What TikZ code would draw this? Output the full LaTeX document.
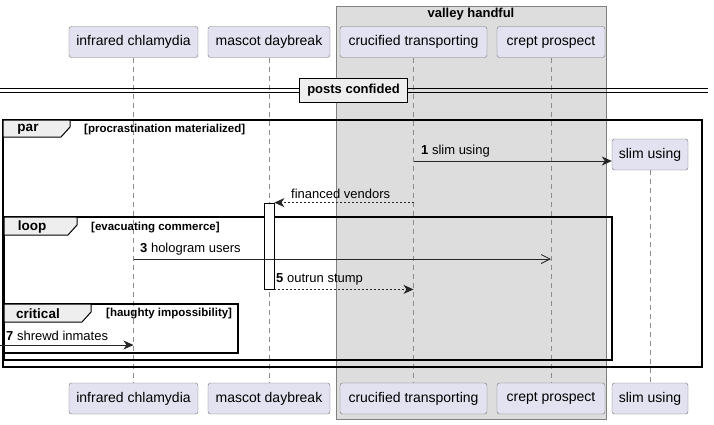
\documentclass[tikz,border=0pt]{standalone}
\usepackage{fontspec}
\setmainfont{Liberation Sans}
\usetikzlibrary{arrows.meta}
\definecolor{partfill}{HTML}{E2E2F0}
\definecolor{boxfill}{HTML}{DDDDDD}
\definecolor{tabfill}{HTML}{EEEEEE}
\begin{document}
\begin{tikzpicture}[x=1pt,y=-1pt,
    actor/.style={draw=black!55,fill=partfill,rounded corners=2.5pt,minimum height=31pt,inner xsep=3pt,font=\fontsize{14}{16}\selectfont},
    life/.style={draw=black!45,dash pattern=on 5pt off 4pt,line width=0.6pt},
    frame/.style={draw=black,line width=1.5pt},
    tab/.style={draw=black,line width=1pt,fill=tabfill},
    tabtext/.style={font=\bfseries\fontsize{13.5}{15}\selectfont,inner sep=0pt},
    guard/.style={font=\bfseries\fontsize{11.5}{13}\selectfont,anchor=west,inner sep=0pt},
    msg/.style={draw=black!85,line width=0.8pt,-{Stealth[length=10pt,width=9pt,inset=3pt]}},
    reply/.style={msg,dash pattern=on 2pt off 2pt},
    async/.style={draw=black!85,line width=0.8pt,-{Straight Barb[length=9pt,width=9pt]}},
    lbl/.style={font=\fontsize{13}{15}\selectfont,inner sep=0pt,anchor=south west}]
    \useasboundingbox (0,0) rectangle (714,424);
    \draw[draw=black!50,fill=boxfill] (336,6) rectangle (606,419);
    \node[font=\bfseries\fontsize{13}{15}\selectfont] (vh) at (471,14) {valley handful};

    \node[actor,minimum width=129pt] (ic) at (133.5,42) {infrared chlamydia};
    \node[actor,minimum width=122pt] (md) at (269,42) {mascot daybreak};
    \node[actor,minimum width=147pt] (ct) at (413.5,42) {crucified transporting};
    \node[actor,minimum width=108pt] (cp) at (551,42) {crept prospect};
    \node[actor,minimum width=76pt] (su) at (650,154.5) {slim using};
    \node[actor,minimum width=129pt] (icb) at (133.5,398.5) {infrared chlamydia};
    \node[actor,minimum width=122pt] (mdb) at (269,398.5) {mascot daybreak};
    \node[actor,minimum width=147pt] (ctb) at (413.5,398.5) {crucified transporting};
    \node[actor,minimum width=108pt] (cpb) at (551,398.5) {crept prospect};
    \node[actor,minimum width=76pt] (sub) at (650,398.5) {slim using};

    \draw[life] (ic) -- (icb);
    \draw[life] (md) -- (mdb);
    \draw[life] (ct) -- (ctb);
    \draw[life] (cp) -- (cpb);
    \draw[life] (su) -- (sub);

    \draw[line width=1pt] (0,88.5) -- (708,88.5);
    \draw[line width=1pt] (0,92.5) -- (708,92.5);
    \node[draw=black,line width=1.5pt,fill=tabfill,minimum width=108pt,minimum height=24pt,font=\bfseries\fontsize{13}{15}\selectfont] (pc) at (353.5,90.5) {posts confided};

    \draw[frame] (3,120) rectangle (702,367);
    \draw[tab] (3,120) -- (70,120) -- (70,127) -- (61,137) -- (3,137) -- cycle;
    \node[tabtext] (par) at (28,129) {par};
    \node[guard] (pg) at (84,130) {[procrastination materialized]};

    \draw[frame] (4,217) rectangle (612,360);
    \draw[tab] (4,217) -- (77,217) -- (77,225) -- (68,235) -- (4,235) -- cycle;
    \node[tabtext] (lp) at (32,227) {loop};
    \node[guard] (lg) at (91,228) {[evacuating commerce]};

    \draw[frame] (4,304) rectangle (238,353);
    \draw[tab] (4,304) -- (91,304) -- (91,312) -- (82,322) -- (4,322) -- cycle;
    \node[tabtext] (cr) at (38,314) {critical};
    \node[guard] (cg) at (106,314) {[haughty impossibility]};

    \node[draw=black,fill=white,line width=0.8pt,minimum width=10pt,minimum height=86pt,inner sep=0pt] (act) at (269,246) {};

    \draw[msg] (ct |- 0,161) -- (su.west |- 0,161);
    \node[lbl] (l1) at (421,157) {\textbf{1} slim using};
    \draw[reply] (ct |- act.north) -- (act.north east);
    \node[lbl] (l2) at (291,199) {financed vendors};
    \draw[async] (ic |- 0,259) -- (cp |- 0,259);
    \node[lbl] (l3) at (140,255) {\textbf{3} hologram users};
    \draw[reply] (act.south east) -- (ct |- act.south);
    \node[lbl] (l5) at (276,285) {\textbf{5} outrun stump};
    \coordinate (edge7) at (0,345);
    \draw[msg] (edge7) -- (ic |- edge7);
    \node[lbl] (l7) at (6,341) {\textbf{7} shrewd inmates};
\end{tikzpicture}
\end{document}
